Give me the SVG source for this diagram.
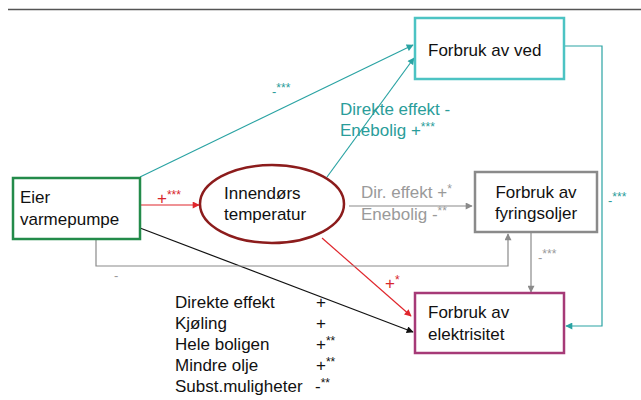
<svg xmlns="http://www.w3.org/2000/svg" width="641" height="400" viewBox="0 0 641 400">
<style>
text{font-family:"Liberation Sans",Arial,sans-serif;font-size:17px;fill:#111}
.box{fill:#fff;stroke-width:2.5}
.teal{fill:#2a9d9a}
.gray{fill:#9a9a9a}
.red{fill:#d8262c}
.sup{font-size:12px}
</style>
<defs>
<marker id="aTeal" viewBox="0 0 10 10" refX="9" refY="5" markerWidth="8" markerHeight="7" markerUnits="userSpaceOnUse" orient="auto"><path d="M0,0L10,5L0,10z" fill="#2aa3a3"/></marker>
<marker id="aRed" viewBox="0 0 10 10" refX="9" refY="5" markerWidth="8" markerHeight="7" markerUnits="userSpaceOnUse" orient="auto"><path d="M0,0L10,5L0,10z" fill="#e0262c"/></marker>
<marker id="aBlack" viewBox="0 0 10 10" refX="9" refY="5" markerWidth="8" markerHeight="7" markerUnits="userSpaceOnUse" orient="auto"><path d="M0,0L10,5L0,10z" fill="#111"/></marker>
<marker id="aGray" viewBox="0 0 10 10" refX="9" refY="5" markerWidth="8" markerHeight="7" markerUnits="userSpaceOnUse" orient="auto"><path d="M0,0L10,5L0,10z" fill="#8a8a8a"/></marker>
</defs>
<rect width="641" height="400" fill="#fff"/>
<line x1="8" y1="9.5" x2="641" y2="9.5" stroke="#555" stroke-width="1.5"/>

<g id="connectors" fill="none" stroke-width="1.2">
<line x1="140" y1="177" x2="413" y2="45" stroke="#2aa3a3" marker-end="url(#aTeal)"/>
<line x1="327" y1="177" x2="414" y2="58" stroke="#2aa3a3" marker-end="url(#aTeal)"/>
<polyline points="564,46 602,46 602,326 566,326" stroke="#2aa3a3" marker-end="url(#aTeal)"/>
<line x1="140" y1="205" x2="199" y2="205" stroke="#e0262c" marker-end="url(#aRed)"/>
<line x1="322" y1="238" x2="411" y2="316" stroke="#e0262c" marker-end="url(#aRed)"/>
<line x1="140" y1="228" x2="413" y2="332" stroke="#111" marker-end="url(#aBlack)"/>
<line x1="349" y1="206" x2="472" y2="206" stroke="#8a8a8a" marker-end="url(#aGray)"/>
<line x1="531" y1="232" x2="531" y2="292" stroke="#8a8a8a" marker-end="url(#aGray)"/>
<polyline points="96,240 96,266 508,266 508,234" stroke="#8a8a8a" marker-end="url(#aGray)"/>
</g>

<g id="labels">
<text x="272" y="96" class="teal" style="font-size:13px">-<tspan class="sup" dy="-4">***</tspan></text>
<text x="340" y="115" class="teal">Direkte effekt -</text>
<text x="340" y="136" class="teal">Enebolig +<tspan class="sup" dy="-5">***</tspan></text>
<text x="608" y="205" class="teal" style="font-size:13px">-<tspan class="sup" dy="-4">***</tspan></text>
<text x="157" y="204" class="red">+<tspan class="sup" dy="-5">***</tspan></text>
<text x="385" y="289" class="red">+<tspan class="sup" dy="-5">*</tspan></text>
<text x="361" y="198" class="gray">Dir. effekt +<tspan class="sup" dy="-5">*</tspan></text>
<text x="361" y="220" class="gray">Enebolig -<tspan class="sup" dy="-5">**</tspan></text>
<text x="538" y="262" class="gray" style="font-size:13px">-<tspan class="sup" dy="-4">***</tspan></text>
<text x="114" y="280" class="gray" style="font-size:13px">-</text>
</g>

<g id="legend">
<text x="175" y="308">Direkte effekt</text>
<text x="175" y="329">Kjøling</text>
<text x="175" y="350">Hele boligen</text>
<text x="175" y="371">Mindre olje</text>
<text x="175" y="392">Subst.muligheter</text>
<text x="316" y="308">+</text>
<text x="316" y="329">+</text>
<text x="316" y="350">+<tspan class="sup" dy="-5">**</tspan></text>
<text x="316" y="371">+<tspan class="sup" dy="-5">**</tspan></text>
<text x="315" y="392">-<tspan class="sup" dy="-5">**</tspan></text>
</g>

<g id="eier">
<rect class="box" x="13" y="178" width="127" height="61" stroke="#238b4a"/>
<text x="20" y="203">Eier</text>
<text x="20" y="225">varmepumpe</text>
</g>

<g id="innendors">
<ellipse cx="272" cy="204" rx="72" ry="39" fill="#fff" stroke="#8c1c1c" stroke-width="2.5"/>
<text x="224" y="199">Innendørs</text>
<text x="224" y="220">temperatur</text>
</g>

<g id="ved">
<rect class="box" x="415" y="18" width="149" height="61" stroke="#4cc3c3"/>
<text x="428" y="56">Forbruk av ved</text>
</g>

<g id="fyringsoljer">
<rect class="box" x="475" y="172" width="122" height="60" stroke="#8a8a8a"/>
<text x="536" y="198" text-anchor="middle">Forbruk av</text>
<text x="536" y="219" text-anchor="middle">fyringsoljer</text>
</g>

<g id="elektrisitet">
<rect class="box" x="415" y="293" width="149" height="60" stroke="#a63a77"/>
<text x="428" y="318">Forbruk av</text>
<text x="428" y="340">elektrisitet</text>
</g>
</svg>
